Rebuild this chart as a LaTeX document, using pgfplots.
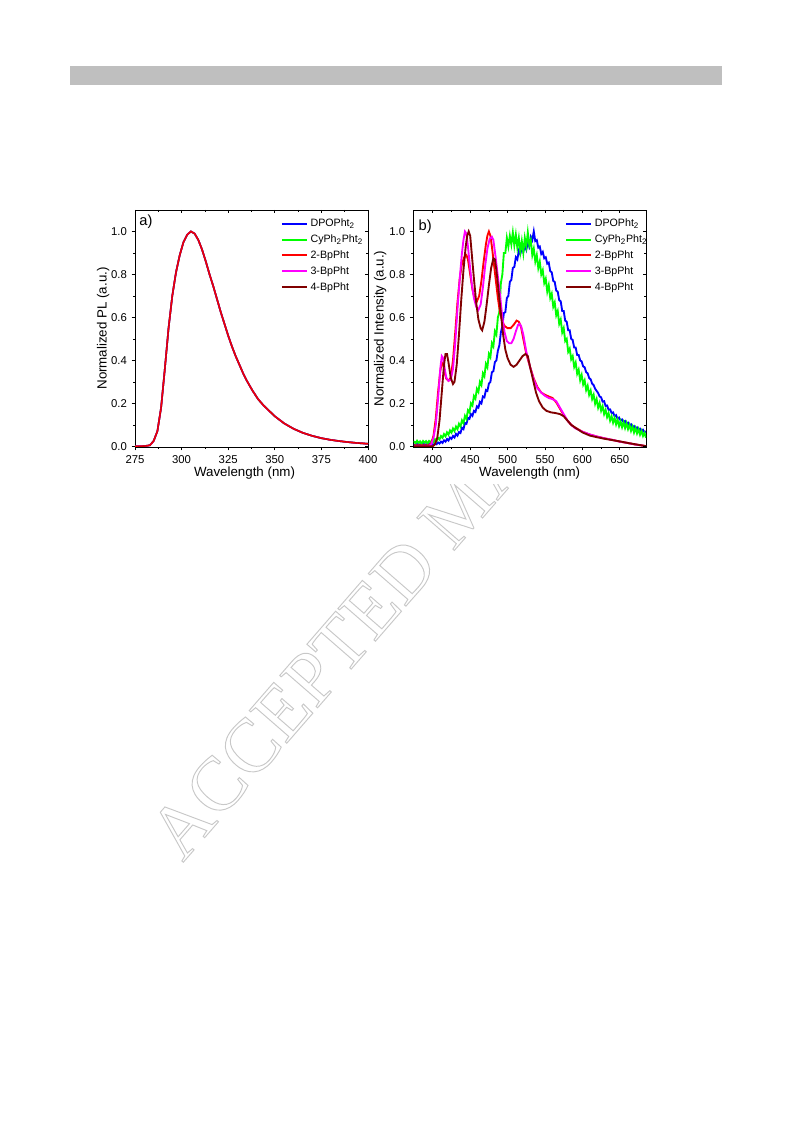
\documentclass[border=0pt]{standalone}
\usepackage{fontspec}
\setmainfont{Liberation Sans}
\newfontfamily\wmfont{Liberation Serif}
\usepackage{pgfplots}
\usepackage{pgfplotstable}
\pgfplotsset{compat=1.18}
\definecolor{cblue}{RGB}{0,0,255}
\definecolor{cgreen}{RGB}{0,255,0}
\definecolor{cred}{RGB}{255,0,0}
\definecolor{cmag}{RGB}{255,0,255}
\definecolor{cbrown}{RGB}{128,0,0}
\definecolor{bargray}{RGB}{191,191,191}
\definecolor{wmgray}{RGB}{200,200,200}

% ---------- panel a: PL (all five curves coincide) ----------
\pgfplotstableread{
x y
275 0
280 0.001
283 0.005
285 0.025
287 0.07
289 0.18
291 0.36
293 0.55
295 0.70
297 0.81
299 0.89
301 0.95
303 0.985
305 1.0
307 0.99
309 0.96
311 0.915
313 0.86
315 0.80
317 0.745
319 0.685
321 0.625
323 0.57
325 0.515
327 0.465
329 0.42
331 0.38
333 0.34
335 0.305
338 0.26
341 0.22
344 0.19
347 0.165
350 0.14
355 0.107
360 0.082
365 0.063
370 0.049
375 0.038
380 0.030
385 0.024
390 0.019
395 0.015
400 0.012
}\tabA

% ---------- panel b ----------
\pgfplotstableread{
x y
375 0.010
377 0.004
379 0.011
381 0.005
383 0.010
385 0.004
387 0.011
389 0.005
391 0.010
393 0.004
395 0.011
397 0.005
399 0.010
401 0.007
403 0.014
405 0.010
407 0.018
409 0.013
411 0.022
413 0.016
415 0.028
417 0.022
419 0.034
421 0.027
423 0.041
425 0.035
427 0.048
429 0.041
431 0.058
433 0.050
435 0.066
437 0.062
439 0.086
441 0.080
443 0.108
445 0.105
447 0.132
449 0.128
451 0.150
453 0.142
455 0.165
457 0.160
459 0.186
461 0.180
463 0.207
465 0.200
467 0.232
469 0.228
471 0.262
473 0.258
475 0.292
477 0.300
479 0.345
481 0.350
483 0.392
485 0.400
487 0.445
489 0.470
491 0.530
493 0.560
495 0.620
497 0.625
499 0.690
501 0.700
503 0.765
505 0.775
507 0.830
509 0.835
511 0.880
513 0.870
515 0.910
517 0.895
519 0.925
521 0.905
523 0.935
525 0.915
527 0.950
529 0.930
531 0.975
533 0.960
535 1.0
537 0.955
539 0.960
541 0.925
543 0.930
545 0.895
547 0.905
549 0.875
551 0.880
553 0.850
555 0.855
557 0.815
559 0.810
561 0.770
563 0.765
565 0.725
567 0.720
569 0.680
571 0.675
573 0.630
575 0.630
577 0.585
579 0.580
581 0.540
583 0.540
585 0.500
587 0.495
589 0.460
591 0.460
593 0.425
595 0.425
597 0.400
599 0.395
601 0.372
603 0.368
605 0.345
607 0.340
609 0.318
611 0.312
613 0.292
615 0.285
617 0.268
619 0.258
621 0.248
623 0.232
625 0.228
627 0.208
629 0.210
631 0.188
633 0.190
635 0.170
637 0.172
639 0.155
641 0.158
643 0.140
645 0.145
647 0.128
649 0.134
651 0.120
653 0.125
655 0.112
657 0.118
659 0.104
661 0.110
663 0.096
665 0.102
667 0.088
669 0.094
671 0.082
673 0.088
675 0.076
677 0.082
679 0.070
681 0.077
683 0.065
685 0.070
}\tabBlue

\pgfplotstableread{
x y
375 0.024
377 0.014
379 0.026
381 0.016
383 0.023
385 0.012
387 0.025
389 0.017
391 0.024
393 0.014
395 0.025
397 0.019
399 0.028
401 0.020
403 0.033
405 0.025
407 0.040
409 0.032
411 0.048
413 0.040
415 0.057
417 0.047
419 0.065
421 0.054
423 0.074
425 0.064
427 0.083
429 0.071
431 0.092
433 0.080
435 0.105
437 0.092
439 0.121
441 0.108
443 0.142
445 0.128
447 0.168
449 0.158
451 0.200
453 0.190
455 0.234
457 0.222
459 0.268
461 0.254
463 0.300
465 0.285
467 0.340
469 0.326
471 0.384
473 0.368
475 0.430
477 0.415
479 0.480
481 0.465
483 0.535
485 0.520
487 0.600
489 0.625
491 0.760
493 0.800
495 0.900
497 0.900
499 0.970
501 0.930
503 0.980
505 0.940
507 0.995
509 0.935
511 0.985
513 0.925
515 0.970
517 0.905
519 0.955
521 0.900
523 0.970
525 0.930
527 0.995
529 0.935
531 0.960
533 0.890
535 0.920
537 0.860
539 0.890
541 0.830
543 0.860
545 0.800
547 0.820
549 0.760
551 0.780
553 0.720
555 0.750
557 0.690
559 0.710
561 0.650
563 0.670
565 0.610
567 0.630
569 0.570
571 0.590
573 0.530
575 0.550
577 0.490
579 0.500
581 0.440
583 0.455
585 0.405
587 0.420
589 0.370
591 0.390
593 0.338
595 0.357
597 0.308
599 0.332
601 0.288
603 0.307
605 0.262
607 0.282
609 0.240
611 0.260
613 0.220
615 0.240
617 0.198
619 0.220
621 0.180
623 0.202
625 0.166
627 0.187
629 0.150
631 0.170
633 0.136
635 0.155
637 0.120
639 0.140
641 0.110
643 0.132
645 0.102
647 0.124
649 0.094
651 0.116
653 0.089
655 0.112
657 0.085
659 0.108
661 0.080
663 0.100
665 0.072
667 0.092
669 0.064
671 0.085
673 0.060
675 0.080
677 0.054
679 0.072
681 0.048
683 0.063
685 0.040
}\tabGreen

\pgfplotstableread{
x y
375 0.005
395 0.005
398 0.015
401 0.05
404 0.13
407 0.25
410 0.35
412 0.39
414 0.38
416 0.34
418 0.315
421 0.305
424 0.32
427 0.40
430 0.53
433 0.67
436 0.78
439 0.85
442 0.88
445 0.89
447 0.87
450 0.80
453 0.73
456 0.685
459 0.675
462 0.70
465 0.77
468 0.86
471 0.94
473 0.98
475 1.0
477 0.98
479 0.93
481 0.87
484 0.78
487 0.69
490 0.62
493 0.58
496 0.56
500 0.55
504 0.55
508 0.565
512 0.585
515 0.58
518 0.555
521 0.50
525 0.43
530 0.37
535 0.315
540 0.275
545 0.25
550 0.24
555 0.232
560 0.225
565 0.205
570 0.175
575 0.145
580 0.12
585 0.10
590 0.088
600 0.068
610 0.055
620 0.045
630 0.037
640 0.03
650 0.022
660 0.016
670 0.009
680 0.004
685 0.0
}\tabRed

\pgfplotstableread{
x y
375 0.0
395 0.0
398 0.01
401 0.04
404 0.10
407 0.22
410 0.36
412 0.42
414 0.41
416 0.36
418 0.32
421 0.305
424 0.31
427 0.36
430 0.48
433 0.64
436 0.78
439 0.90
441 0.96
443 1.0
445 0.99
447 0.93
449 0.86
452 0.76
455 0.69
458 0.65
461 0.635
464 0.66
467 0.74
470 0.84
473 0.92
476 0.965
479 0.975
481 0.96
484 0.88
487 0.79
490 0.70
493 0.60
496 0.53
499 0.49
502 0.48
505 0.48
508 0.50
511 0.535
514 0.565
516 0.57
518 0.56
521 0.52
525 0.44
530 0.37
535 0.31
540 0.27
545 0.25
550 0.235
555 0.225
560 0.22
565 0.21
570 0.18
575 0.15
580 0.12
585 0.10
590 0.085
600 0.068
610 0.055
620 0.045
630 0.037
640 0.03
650 0.022
660 0.016
670 0.009
680 0.004
685 0.0
}\tabMag

\pgfplotstableread{
x y
375 0.0
400 0.0
403 0.01
406 0.04
409 0.12
412 0.25
415 0.38
417 0.43
419 0.43
421 0.39
424 0.32
427 0.29
429 0.30
432 0.38
435 0.52
438 0.68
441 0.82
444 0.93
446 0.98
448 1.0
450 0.98
452 0.90
455 0.78
458 0.67
461 0.59
464 0.55
466 0.54
469 0.58
472 0.66
475 0.75
478 0.83
481 0.875
483 0.87
485 0.82
488 0.72
491 0.62
494 0.52
497 0.45
500 0.41
504 0.38
508 0.37
512 0.38
516 0.40
520 0.42
524 0.43
527 0.42
530 0.37
534 0.31
538 0.25
542 0.21
547 0.18
552 0.165
558 0.158
564 0.155
570 0.15
575 0.14
580 0.12
585 0.10
590 0.088
600 0.065
610 0.05
620 0.042
630 0.035
640 0.029
650 0.023
660 0.016
670 0.01
680 0.004
685 0.001
}\tabBrown

\pgfplotsset{
  panel/.style={
    scale only axis, width=174.75pt, height=177.75pt,
    ymin=-0.003, ymax=1.1,
    axis line style={line width=0.6pt},
    every tick/.style={black, line width=0.5pt},
    major tick length=2.6pt, minor tick length=1.5pt,
    /pgf/number format/assume math mode=true,
    ticklabel style={font=\fontsize{8.5}{10}\selectfont},
    label style={font=\fontsize{10}{12}\selectfont},
    ytick={0,0.2,0.4,0.6,0.8,1.0}, minor y tick num=1,
    minor x tick num=1,
    yticklabel style={/pgf/number format/.cd,fixed,fixed zerofill,precision=1},
    xticklabel style={/pgf/number format/.cd,set thousands separator={}},
  },
  lowerax/.style={tick align=outside, xtick pos=left, ytick pos=left},
  upperax/.style={tick align=inside, xtick pos=right, ytick pos=right,
    xticklabels={}, yticklabels={}, axis line style={draw=none}},
  leg/.style={legend style={draw=none, fill=none, at={(#1,0.975)}, anchor=north west,
    font=\fontsize{8}{9}\selectfont, inner sep=0pt, row sep=0.6pt,
    cells={anchor=west}},
    legend image code/.code={\draw[##1] (0pt,0pt) -- (18.75pt,0pt);}},
}

\begin{document}
\begin{tikzpicture}
\useasboundingbox (0,0) rectangle (594.75pt,842.25pt);
\fill[white] (0,0) rectangle (594.75pt,842.25pt);
% watermark (outlined letters)
\node[rotate=49, anchor=base west, text=wmgray, inner sep=0pt,
  font=\wmfont\fontsize{57}{57}\selectfont] at (137pt,195pt)
  {\special{pdf:literal direct 1 Tr 0.7 w}ACCEPTED MANUSCRIPT\special{pdf:literal direct 0 Tr}};
% header bar
\fill[bargray] (52.5pt,778.5pt) rectangle (541.5pt,792.75pt);
% figure background (covers the rest of the watermark)
\fill[white] (66pt,479pt) rectangle (594.75pt,730pt);

% ---- panel a ----
\begin{axis}[panel, lowerax, leg=0.625, at={(101.25pt,507pt)}, anchor=south west,
  xmin=275, xmax=400, xtick={275,300,325,350,375,400},
  xlabel={Wavelength (nm)}, ylabel={Normalized PL (a.u.)},
  xlabel style={at={(axis description cs:0.47,-0.11)}, anchor=center},
  ylabel style={at={(axis description cs:-0.137,0.5)}, anchor=center},
  every axis plot/.append style={line width=1.2pt}]
\addlegendimage{cblue, line width=1.5pt}
\addlegendentry{DPOPht\textsubscript{2}}
\addlegendimage{cgreen, line width=1.5pt}
\addlegendentry{CyPh\textsubscript{2}Pht\textsubscript{2}}
\addlegendimage{cred, line width=1.5pt}
\addlegendentry{2-BpPht}
\addlegendimage{cmag, line width=1.5pt}
\addlegendentry{3-BpPht}
\addlegendimage{cbrown, line width=1.5pt}
\addlegendentry{4-BpPht}
\addplot[cblue, forget plot] table[x=x,y=y] {\tabA};
\addplot[cgreen, forget plot] table[x=x,y=y] {\tabA};
\addplot[cred, forget plot] table[x=x,y=y] {\tabA};
\addplot[cmag, forget plot] table[x=x,y=y] {\tabA};
\addplot[cbrown, line width=1pt, forget plot] table[x=x,y=y] {\tabA};
\addplot[cred, line width=0.7pt, forget plot] table[x=x,y=y] {\tabA};
\node[anchor=north west, inner sep=0pt, font=\fontsize{11}{12}\selectfont] at (rel axis cs:0.018,0.98) {a)};
\end{axis}
\begin{axis}[panel, upperax, at={(101.25pt,507pt)}, anchor=south west,
  xmin=275, xmax=400, xtick={275,300,325,350,375,400}]
\end{axis}

% ---- panel b ----
\begin{axis}[panel, lowerax, leg=0.652, at={(310pt,507pt)}, anchor=south west,
  width=174.5pt,
  xmin=374, xmax=685, xtick={400,450,500,550,600,650},
  xlabel={Wavelength (nm)}, ylabel={Normalized Intensity (a.u.)},
  xlabel style={at={(axis description cs:0.5,-0.11)}, anchor=center},
  ylabel style={at={(axis description cs:-0.143,0.5)}, anchor=center},
  every axis plot/.append style={line width=1.4pt}]
\addplot[cblue] table[x=x,y=y] {\tabBlue};
\addlegendentry{DPOPht\textsubscript{2}}
\addplot[cgreen] table[x=x,y=y] {\tabGreen};
\addlegendentry{CyPh\textsubscript{2}Pht\textsubscript{2}}
\addplot[cred] table[x=x,y=y] {\tabRed};
\addlegendentry{2-BpPht}
\addplot[cmag] table[x=x,y=y] {\tabMag};
\addlegendentry{3-BpPht}
\addplot[cbrown] table[x=x,y=y] {\tabBrown};
\addlegendentry{4-BpPht}
\node[anchor=north west, inner sep=0pt, font=\fontsize{11}{12}\selectfont] at (rel axis cs:0.022,0.96) {b)};
\end{axis}
\begin{axis}[panel, upperax, at={(310pt,507pt)}, anchor=south west,
  width=174.5pt, xmin=374, xmax=685, xtick={400,450,500,550,600,650}]
\end{axis}
\end{tikzpicture}
\end{document}
